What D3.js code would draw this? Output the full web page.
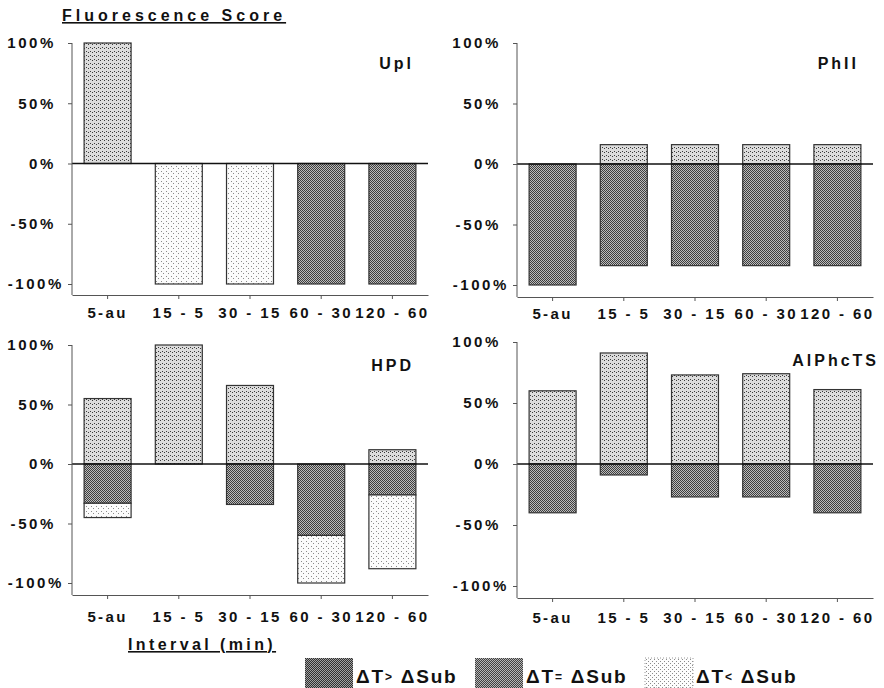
<!DOCTYPE html>
<html>
<head>
<meta charset="utf-8">
<script src="https://cdn.jsdelivr.net/npm/d3@7"></script>
<style>
  html, body { margin: 0; padding: 0; background: #fff; }
  svg { display: block; font-family: "Liberation Sans", Arial, sans-serif; font-weight: bold; }
</style>
</head>
<body>
<svg id="chart" width="884" height="688"></svg>
<script>
// Intervals (min) on the x axis
const categories = ["5-au", "15 - 5", "30 - 15", "60 - 30", "120 - 60"];
const yTicks = [-100, -50, 0, 50, 100];
const panelNames = ["Upl", "PhII", "HPD", "AlPhcTS"];

// Percent of samples per interval: ΔT>ΔSub (positive), ΔT=ΔSub and ΔT<ΔSub (negative, stacked)
const uplGt = [100, 0, 0, 0, 0];
const uplEq = [0, 0, 0, -100, -100];
const uplLt = [0, -100, -100, 0, 0];

const phiiGt = [0, 16, 16, 16, 16];
const phiiEq = [-100, -84, -84, -84, -84];
const phiiLt = [0, 0, 0, 0, 0];

const hpdGt = [55, 100, 66, 0, 12];
const hpdEq = [-33, 0, -34, -60, -26];
const hpdLt = [-12, 0, 0, -40, -62];

const alGt = [60, 91, 73, 74, 61];
const alEq = [-40, -9, -27, -27, -40];
const alLt = [0, 0, 0, 0, 0];

const seriesKeys = ["gt", "eq", "lt"];
const legendLabels = [["ΔT", ">", " ΔSub"], ["ΔT", "=", " ΔSub"], ["ΔT", "<", " ΔSub"]];

const panelData = [
  { gt: uplGt, eq: uplEq, lt: uplLt },
  { gt: phiiGt, eq: phiiEq, lt: phiiLt },
  { gt: hpdGt, eq: hpdEq, lt: hpdLt },
  { gt: alGt, eq: alEq, lt: alLt }
];

// Layout of the four small multiples
const layout = [
  { left: 72,  top: 43,  bottom: 284, axisY: 295, labelPad: 8.5 },
  { left: 517, top: 43,  bottom: 285, axisY: 297, labelPad: 7 },
  { left: 72,  top: 345, bottom: 583, axisY: 595, labelPad: 12 },
  { left: 517, top: 342, bottom: 586, axisY: 598, labelPad: 10 }
];
const panelWidth = 356;

const svg = d3.select("#chart");
const defs = svg.append("defs");

// Halftone-like textures
function dotPattern(id, size, bg, dotColor, dots) {
  const p = defs.append("pattern")
    .attr("id", id).attr("patternUnits", "userSpaceOnUse")
    .attr("width", size).attr("height", size);
  p.append("rect").attr("width", size).attr("height", size).attr("fill", bg);
  dots.forEach(([x, y]) => p.append("rect").attr("x", x).attr("y", y)
    .attr("width", 1).attr("height", 1).attr("fill", dotColor));
}
dotPattern("pat-gt", 4, "#dcdcdc", "#3a3a3a", [[0, 0], [2, 3]]);
dotPattern("pat-eq", 2, "#bcbcbc", "#3e3e3e", [[0, 0], [1, 1]]);
dotPattern("pat-lt", 5, "#fbfbfb", "#8a8a8a", [[1, 1], [3, 3]]);
dotPattern("pat-sw1", 2, "#a2a2a2", "#303030", [[0, 0], [1, 1]]);
dotPattern("pat-sw2", 2, "#b6b6b6", "#404040", [[0, 0], [1, 1]]);
dotPattern("pat-sw3", 4, "#fdfdfd", "#8a8a8a", [[1, 1], [3, 3]]);

const seriesFill = { gt: "url(#pat-gt)", eq: "url(#pat-eq)", lt: "url(#pat-lt)" };
const legendFill = ["url(#pat-sw1)", "url(#pat-sw2)", "url(#pat-sw3)"];

panelData.forEach((d, i) => {
  const L = layout[i];
  const g = svg.append("g");

  const x = d3.scaleBand()
    .domain(categories)
    .range([L.left, L.left + panelWidth])
    .paddingInner(0.34)
    .paddingOuter(0.17);

  const y = d3.scaleLinear().domain([-100, 100]).range([L.bottom, L.top]);

  // Stacked segments
  const segs = [];
  categories.forEach((c, k) => {
    const gt = d.gt[k], eq = d.eq[k], lt = d.lt[k];
    if (gt) segs.push({ c, key: "gt", y0: 0, y1: gt });
    if (eq) segs.push({ c, key: "eq", y0: 0, y1: eq });
    if (lt) segs.push({ c, key: "lt", y0: eq, y1: eq + lt });
  });

  g.selectAll("rect.bar").data(segs).join("rect")
    .attr("class", "bar")
    .attr("x", s => x(s.c))
    .attr("width", x.bandwidth())
    .attr("y", s => y(Math.max(s.y0, s.y1)))
    .attr("height", s => Math.abs(y(s.y0) - y(s.y1)))
    .attr("fill", s => seriesFill[s.key])
    .attr("stroke", "#333")
    .attr("stroke-width", 1.2);

  // Zero line
  g.append("line")
    .attr("x1", L.left).attr("x2", L.left + panelWidth)
    .attr("y1", y(0)).attr("y2", y(0))
    .attr("stroke", "#111").attr("stroke-width", 1.6);

  // Y axis
  const ya = g.append("g").attr("transform", `translate(${L.left},0)`)
    .call(d3.axisLeft(y).tickValues(yTicks).tickFormat(v => v + "%").tickSize(4).tickPadding(12));
  ya.select(".domain").remove();
  ya.append("line")
    .attr("x1", 0).attr("x2", 0).attr("y1", y(100)).attr("y2", L.axisY)
    .attr("stroke", "#555").attr("stroke-width", 1);
  ya.selectAll(".tick line").attr("stroke", "#555");
  ya.selectAll("text")
    .attr("font-size", 15).attr("letter-spacing", 2.6).attr("fill", "#111")
    .attr("font-family", "Liberation Sans, Arial, sans-serif");
  ya.selectAll(".tick").filter(v => v === -100).select("text").attr("dx", 8);

  // X axis
  const xa = g.append("g").attr("transform", `translate(0,${L.axisY})`)
    .call(d3.axisBottom(x).tickSize(4).tickPadding(L.labelPad).tickSizeOuter(0));
  xa.select(".domain").attr("stroke", "#555");
  xa.selectAll(".tick line").attr("stroke", "#555");
  xa.selectAll("text")
    .attr("font-size", 15).attr("letter-spacing", 2.4).attr("fill", "#111")
    .attr("font-family", "Liberation Sans, Arial, sans-serif");

  // Panel name
  g.append("text")
    .attr("x", L.left + panelWidth - (i === 3 ? -6 : 14))
    .attr("y", y(100) + (i === 3 ? 24 : 26))
    .attr("text-anchor", "end")
    .attr("font-size", 16).attr("letter-spacing", 3).attr("fill", "#111")
    .text(panelNames[i]);
});

// Titles
svg.append("text")
  .attr("x", 62).attr("y", 21)
  .attr("font-size", 16).attr("letter-spacing", 4).attr("fill", "#111")
  .attr("text-decoration", "underline")
  .text("Fluorescence Score");

svg.append("text")
  .attr("x", 128).attr("y", 650)
  .attr("font-size", 16).attr("letter-spacing", 3.4).attr("fill", "#111")
  .attr("text-decoration", "underline")
  .text("Interval (min)");

// Legend
const legendX = [305, 475, 645];
const legend = svg.append("g");
seriesKeys.forEach((k, j) => {
  const lg = legend.append("g").attr("transform", `translate(${legendX[j]},658)`);
  lg.append("rect")
    .attr("width", 48).attr("height", 30)
    .attr("fill", legendFill[j])
    .attr("stroke", j === 2 ? "#999" : "none")
    .attr("stroke-dasharray", j === 2 ? "1,2" : null);
  const t = lg.append("text")
    .attr("x", 51).attr("y", 25)
    .attr("font-size", 19).attr("letter-spacing", 1.8).attr("fill", "#111");
  t.append("tspan").text(legendLabels[j][0]);
  t.append("tspan").attr("font-size", 12).attr("dy", -2).text(legendLabels[j][1]);
  t.append("tspan").attr("dy", 2).text(legendLabels[j][2]);
});
</script>
</body>
</html>
